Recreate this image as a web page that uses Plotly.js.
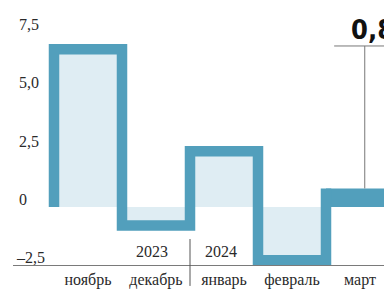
<!DOCTYPE html>
<html>
<head>
<meta charset="utf-8">
<script src="https://cdn.plot.ly/plotly-3.0.1.min.js"></script>
<style>html,body{margin:0;padding:0;background:#fff;}#chart{width:384px;height:291px;}</style>
</head>
<body>
<div id="chart"></div>
<script>
// ---- data ----
const months = ['ноябрь', 'декабрь', 'январь', 'февраль', 'март'];
const values = [6.8, -0.8, 2.4, -2.3, 0.8];
const currentLabel = '0,8';
const yTicks = [7.5, 5, 2.5, 0, -2.5];
const yTickLabels = ['7,5', '5,0', '2,5', '0', '–2,5'];
const years = ['2023', '2024'];

// ---- styles ----
const BLUE = '#529fbc';
const LIGHT = '#dfedf3';
const SERIF = 'Liberation Serif, Times New Roman, serif';

const last = values.length - 1;
const xs = [-0.5], ys = [0];
for (let i = 0; i < last; i++) { xs.push(i - 0.5); ys.push(values[i]); }
xs.push(last - 0.5); ys.push(values[last]);

const stepTrace = {
  type: 'scatter', mode: 'lines', x: xs, y: ys,
  line: {shape: 'hv', color: BLUE, width: 10.5},
  fill: 'tozeroy', fillcolor: LIGHT, hoverinfo: 'skip', showlegend: false
};
const currentBar = {
  type: 'bar', x: [last], y: [values[last]], width: [1],
  marker: {color: BLUE, line: {width: 0}}, hoverinfo: 'skip', showlegend: false
};

const annotations = yTicks.map((v, i) => ({
  xref: 'paper', yref: 'y', x: 0.011, y: v, xanchor: 'left', yanchor: 'middle',
  yshift: 8, xshift: v < 0 ? -3 : 0, showarrow: false,
  text: yTickLabels[i], font: {family: SERIF, size: 16, color: '#2a2a2a'}
}));
annotations.push({
  xref: 'x', yref: 'paper', x: 1, y: 0.052, xshift: -4, yanchor: 'middle', showarrow: false,
  text: years[0], font: {family: SERIF, size: 16, color: '#2a2a2a'}
});
annotations.push({
  xref: 'x', yref: 'paper', x: 2, y: 0.052, xshift: -3, yanchor: 'middle', showarrow: false,
  text: years[1], font: {family: SERIF, size: 16, color: '#2a2a2a'}
});
annotations.push({
  xref: 'paper', yref: 'paper', x: 0.907, y: 0.89, xanchor: 'left', yanchor: 'middle', showarrow: false,
  text: '<b>' + currentLabel + '</b>',
  font: {family: 'Liberation Sans Narrow, DejaVu Sans Condensed, Arial Narrow, sans-serif', size: 27, color: '#111'}
});

const shapes = [
  {type: 'line', xref: 'x', yref: 'paper', x0: 1.5, x1: 1.5, y0: 0.098, y1: -0.079,
   line: {color: '#555', width: 1}},
  {type: 'line', xref: 'x', yref: 'y', x0: 4.07, x1: 4.07, y0: values[last], y1: 6.94,
   line: {color: '#777', width: 1}},
  {type: 'line', xref: 'x', yref: 'y', x0: 3.62, x1: 4.6, y0: 6.94, y1: 6.94,
   line: {color: '#777', width: 1}}
];

const layout = {
  width: 384, height: 291,
  margin: {l: 13, r: 0, t: 0, b: 26, pad: 0},
  paper_bgcolor: '#fff', plot_bgcolor: '#fff',
  showlegend: false,
  xaxis: {
    range: [-1.103, 4.353], showgrid: false, zeroline: false,
    showline: true, linecolor: '#7a7a7a', linewidth: 1,
    tickmode: 'array', tickvals: months.map((m, i) => i), ticktext: months,
    ticks: '', tickfont: {family: SERIF, size: 16, color: '#2a2a2a'}, fixedrange: true
  },
  yaxis: {
    range: [-2.5, 8.922], showgrid: false, zeroline: false, showline: false,
    showticklabels: false, ticks: '', fixedrange: true
  },
  annotations: annotations,
  shapes: shapes
};

Plotly.newPlot('chart', [currentBar, stepTrace], layout, {displayModeBar: false, staticPlot: true});
</script>
</body>
</html>
